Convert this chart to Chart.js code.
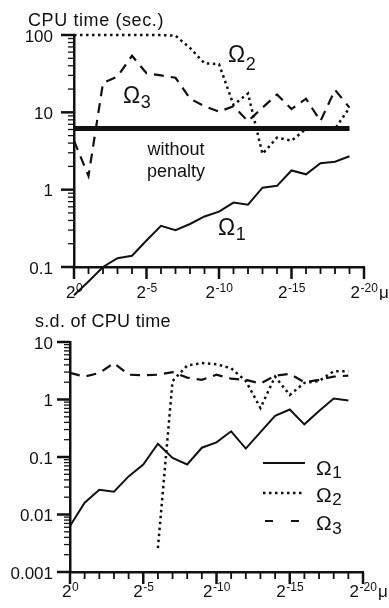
<!DOCTYPE html>
<html>
<head>
<meta charset="utf-8">
<script src="https://cdn.jsdelivr.net/npm/chart.js@4.4.1/dist/chart.umd.min.js"></script>
<style>
  body { margin: 0; background: #fff; }
  #wrap { position: relative; width: 389px; height: 608px; }
  canvas { position: absolute; left: 0; }
  #cpu { top: 0; }
  #sd { top: 300px; }
</style>
</head>
<body>
<div id="wrap">
  <canvas id="cpu" width="389" height="300"></canvas>
  <canvas id="sd" width="389" height="308"></canvas>
</div>
<script>
// mu = 2^-e, e = 0..19
const exponents = [0, 1, 2, 3, 4, 5, 6, 7, 8, 9, 10, 11, 12, 13, 14, 15, 16, 17, 18, 19];
const xTicks = [0, 5, 10, 15, 20];

// CPU time (sec.)
const cpuOmega1 = [0.043, 0.065, 0.1, 0.13, 0.14, 0.22, 0.34, 0.30, 0.36, 0.45, 0.52, 0.68, 0.64, 1.06, 1.12, 1.77, 1.58, 2.2, 2.3, 2.7];
const cpuOmega2 = [100, 100, 100, 100, 100, 100, 100, 98, 68, 43, 42, 12.5, 17.5, 2.9, 4.7, 4.3, 6.1, 6.1, 6.1, 11.5];
const cpuOmega3 = [4.3, 1.5, 24, 29, 54, 32, 30, 28, 15, 12, 10.2, 12, 7.7, 11.5, 17, 11, 15, 7.7, 19.5, 11.5];
const penaltyX = [0, 19];
const penaltyY = [6.2, 6.2];
const cpuTicks = [0.1, 1, 10, 100];

// s.d. of CPU time
const sdOmega1 = [0.0063, 0.016, 0.027, 0.025, 0.046, 0.074, 0.17, 0.096, 0.074, 0.145, 0.18, 0.28, 0.14, 0.27, 0.52, 0.67, 0.37, 0.63, 1.04, 0.96];
const sdOmega2 = [null, null, null, null, null, null, 0.0026, 2.1, 3.9, 4.3, 4.1, 3.5, 2.1, 0.71, 2.5, 1.2, 1.95, 2.1, 3.1, 3.1];
const sdOmega3 = [2.9, 2.5, 2.9, 4.3, 2.7, 2.65, 2.7, 3.0, 2.4, 2.2, 2.7, 2.3, 2.2, 1.9, 2.6, 2.8, 2.0, 2.2, 2.5, 2.6];
const sdTicks = [0.001, 0.01, 0.1, 1, 10];

const ink = '#111';
const fontFam = "'Liberation Sans', Arial, Helvetica, sans-serif";
Chart.defaults.font.family = fontFam;
Chart.defaults.color = ink;

function pts(xs, ys) {
  return xs.map((x, i) => ({ x: x, y: ys[i] }));
}

const solid = { borderColor: ink, borderWidth: 2, pointRadius: 0, tension: 0, clip: false };
const dotted = { borderColor: ink, borderWidth: 2.5, borderDash: [2.5, 3.5], pointRadius: 0, tension: 0, clip: false };
const dashed = { borderColor: ink, borderWidth: 2.2, borderDash: [10, 7], pointRadius: 0, tension: 0, clip: false };

// tick marks (long at decades / every 5th power) and the 2^-e labels
const tickMarks = {
  id: 'tickMarks',
  afterDraw(chart) {
    const { ctx, chartArea: area, scales: { x, y } } = chart;
    ctx.save();
    ctx.strokeStyle = ink;
    const p0 = Math.round(Math.log10(y.min));
    const p1 = Math.round(Math.log10(y.max));
    for (let p = p0; p <= p1; p++) {
      for (let k = 1; k <= 9; k++) {
        if (p === p1 && k > 1) break;
        const py = y.getPixelForValue(k * Math.pow(10, p));
        const len = k === 1 ? 13 : 6;
        ctx.lineWidth = k === 1 ? 2.5 : 1.3;
        ctx.beginPath();
        ctx.moveTo(area.left - len, py);
        ctx.lineTo(area.left, py);
        ctx.stroke();
      }
    }
    for (let e = 0; e <= 20; e++) {
      const px = x.getPixelForValue(e);
      const major = e % 5 === 0;
      ctx.lineWidth = major ? 2.5 : 1.8;
      ctx.beginPath();
      ctx.moveTo(px, area.bottom);
      ctx.lineTo(px, area.bottom + (major ? 12 : 7));
      ctx.stroke();
    }
    ctx.fillStyle = ink;
    ctx.textBaseline = 'alphabetic';
    const base = area.bottom + chart.options.labelDrop;
    xTicks.forEach(e => {
      const sup = String(-e);
      ctx.font = '17px ' + fontFam;
      const w1 = ctx.measureText('2').width;
      ctx.font = '12px ' + fontFam;
      const w2 = ctx.measureText(sup).width;
      const left = x.getPixelForValue(e) - (w1 + w2) / 2;
      ctx.font = '17px ' + fontFam;
      ctx.fillText('2', left, base);
      ctx.font = '12px ' + fontFam;
      ctx.fillText(sup, left + w1 + 0.5, base - 6);
    });
    ctx.font = '17px ' + fontFam;
    ctx.fillText('\u03BC', x.getPixelForValue(20) + 15, base);
    ctx.restore();
  }
};

function omega(ctx, x, base, n, size, subSize, drop) {
  ctx.font = size + 'px ' + fontFam;
  ctx.fillText('\u03A9', x, base);
  const w = ctx.measureText('\u03A9').width;
  ctx.font = subSize + 'px ' + fontFam;
  ctx.fillText(String(n), x + w + 0.5, base + drop);
}

function axes(yMin, yMax, yTicks, yPad, yWidth, xHeight) {
  return {
    x: {
      type: 'linear', min: 0, max: 20,
      grid: { display: false, drawTicks: false },
      border: { display: true, color: ink, width: 2.5 },
      afterBuildTicks: s => { s.ticks = xTicks.map(v => ({ value: v })); },
      afterFit: s => { s.height = xHeight; },
      ticks: { display: false }
    },
    y: {
      type: 'logarithmic', min: yMin, max: yMax,
      grid: { display: false, drawTicks: false },
      border: { display: true, color: ink, width: 2.5 },
      afterBuildTicks: s => { s.ticks = yTicks.map(v => ({ value: v })); },
      afterFit: s => { s.width = yWidth; },
      ticks: { padding: yPad, labelOffset: 2, font: { size: 17 }, color: ink, callback: v => String(v) }
    }
  };
}

const cpuNotes = {
  id: 'cpuNotes',
  afterDraw(chart) {
    const ctx = chart.ctx;
    ctx.save();
    ctx.fillStyle = ink;
    ctx.textBaseline = 'alphabetic';
    ctx.font = '18px ' + fontFam;
    ctx.letterSpacing = '0.6px';
    ctx.fillText('CPU time (sec.)', 28, 26);
    ctx.letterSpacing = '0px';
    ctx.textAlign = 'center';
    ctx.fillText('without', 176, 155);
    ctx.fillText('penalty', 176, 177);
    ctx.textAlign = 'left';
    omega(ctx, 228, 62, 2, 23, 18, 8);
    omega(ctx, 123, 103, 3, 23, 18, 5);
    omega(ctx, 218, 235, 1, 23, 18, 5);
    ctx.restore();
  }
};

const sdNotes = {
  id: 'sdNotes',
  afterDraw(chart) {
    const ctx = chart.ctx;
    ctx.save();
    ctx.fillStyle = ink;
    ctx.strokeStyle = ink;
    ctx.textBaseline = 'alphabetic';
    ctx.font = '18px ' + fontFam;
    ctx.letterSpacing = '0.3px';
    ctx.fillText('s.d. of CPU time', 35, 27);
    ctx.letterSpacing = '0px';
    // legend
    const ds = chart.data.datasets;
    const rows = [163, 193, 221];
    rows.forEach((ry, i) => {
      ctx.lineWidth = ds[i].borderWidth;
      ctx.setLineDash(i === 2 ? [8, 18] : (ds[i].borderDash || []));
      ctx.beginPath();
      ctx.moveTo(i === 2 ? 265 : 263, ry);
      ctx.lineTo(305, ry);
      ctx.stroke();
    });
    ctx.setLineDash([]);
    omega(ctx, 316, 175, 1, 21, 17, 3);
    omega(ctx, 316, 202, 2, 21, 17, 3);
    omega(ctx, 316, 230, 3, 21, 17, 4);
    ctx.restore();
  }
};

new Chart(document.getElementById('cpu'), {
  type: 'line',
  data: {
    datasets: [
      Object.assign({ label: 'without penalty', data: pts(penaltyX, penaltyY) }, solid, { borderWidth: 5 }),
      Object.assign({ label: '\u03A91', data: pts(exponents, cpuOmega1) }, solid),
      Object.assign({ label: '\u03A92', data: pts(exponents, cpuOmega2) }, dotted),
      Object.assign({ label: '\u03A93', data: pts(exponents, cpuOmega3) }, dashed)
    ]
  },
  options: {
    responsive: false,
    animation: false,
    labelDrop: 31,
    layout: { padding: { top: 35, right: 25, left: 0, bottom: 0 } },
    plugins: { legend: { display: false }, tooltip: { enabled: false } },
    scales: axes(0.1, 100, cpuTicks, 21, 74, 33)
  },
  plugins: [tickMarks, cpuNotes]
});

new Chart(document.getElementById('sd'), {
  type: 'line',
  data: {
    datasets: [
      Object.assign({ label: '\u03A91', data: pts(exponents, sdOmega1) }, solid),
      Object.assign({ label: '\u03A92', data: pts(exponents, sdOmega2) }, dotted),
      Object.assign({ label: '\u03A93', data: pts(exponents, sdOmega3) }, dashed)
    ]
  },
  options: {
    responsive: false,
    animation: false,
    labelDrop: 25,
    layout: { padding: { top: 42, right: 26, left: 0, bottom: 0 } },
    plugins: { legend: { display: false }, tooltip: { enabled: false } },
    scales: axes(0.001, 10, sdTicks, 17, 70, 36)
  },
  plugins: [tickMarks, sdNotes]
});
</script>
</body>
</html>
